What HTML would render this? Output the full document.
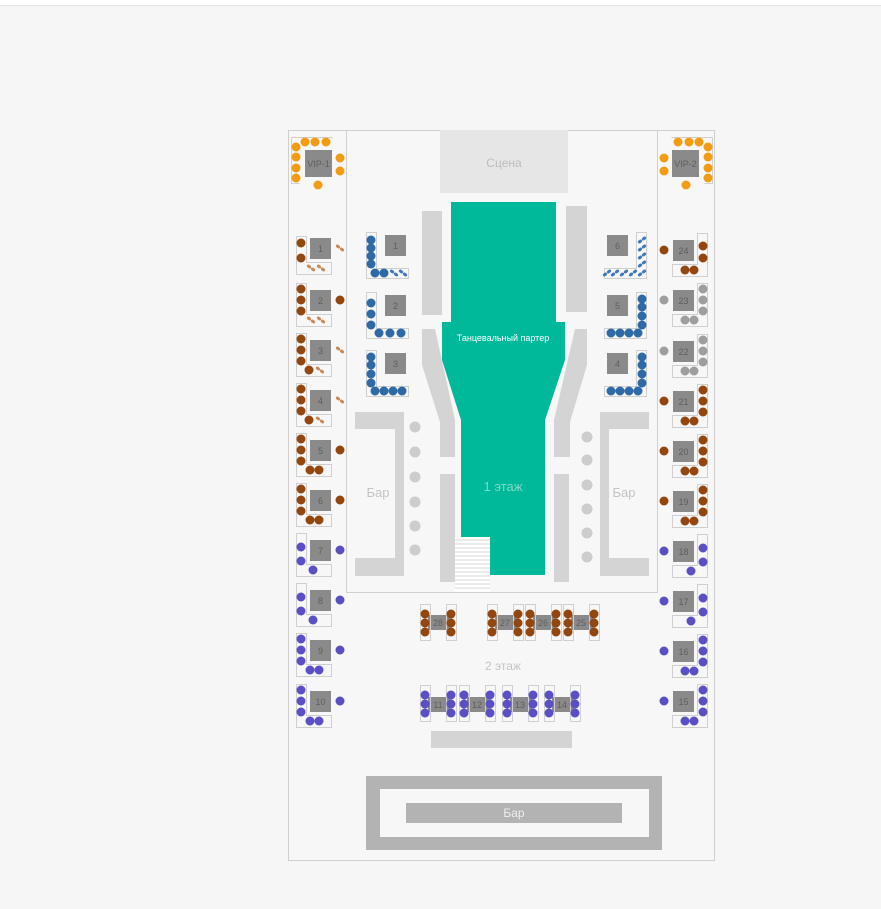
<!DOCTYPE html>
<html><head><meta charset="utf-8"><style>
html,body{margin:0;padding:0;background:#f6f6f6;}
svg{display:block;}
text{font-family:"Liberation Sans",sans-serif;}
</style></head><body>
<svg width="881" height="909" viewBox="0 0 881 909" xmlns="http://www.w3.org/2000/svg">
<rect x="0" y="0" width="881" height="909" fill="#f6f6f6"/>
<rect x="0" y="0" width="881" height="5" fill="#fff"/>
<rect x="0" y="5" width="881" height="1" fill="#e2e2e2"/>
<defs>
<g id="sb"><ellipse cx="-2" cy="-1.5" rx="2.3" ry="1.6" fill="#c98a57" transform="rotate(35 -2 -1.5)"/><ellipse cx="2" cy="1.5" rx="2.3" ry="1.6" fill="#c98a57" transform="rotate(35 2 1.5)"/></g>
<g id="sbl"><ellipse cx="-2" cy="-1.5" rx="2.3" ry="1.6" fill="#3f7ab8" transform="rotate(35 -2 -1.5)"/><ellipse cx="2" cy="1.5" rx="2.3" ry="1.6" fill="#3f7ab8" transform="rotate(35 2 1.5)"/></g>
</defs>

<rect x="288.5" y="130.5" width="426" height="730" fill="#f7f7f7" stroke="#cfcfcf"/>
<path d="M346.5 130.5 V592.5 H657.5 V130.5" fill="none" stroke="#cfcfcf"/>

<rect x="440" y="130" width="128" height="63" fill="#e6e6e6"/>
<text x="504" y="167" font-size="12" fill="#bdbdbd" text-anchor="middle">Сцена</text>

<polygon points="451,202 556,202 556,322 565,322 565,360 545,420 545,575 461,575 461,420 442,360 442,322 451,322" fill="#00b89a"/>
<text x="503" y="341" font-size="9" fill="#fff" text-anchor="middle">Танцевальный партер</text>
<text x="503" y="491" font-size="13" fill="#7fd9c8" text-anchor="middle">1 этаж</text>
<rect x="455" y="537" width="35" height="55" fill="#fff"/>
<g stroke="#d6d6d6" stroke-width="1">
<line x1="455" y1="540" x2="490" y2="540"/><line x1="455" y1="544" x2="490" y2="544"/><line x1="455" y1="548" x2="490" y2="548"/><line x1="455" y1="552" x2="490" y2="552"/><line x1="455" y1="556" x2="490" y2="556"/><line x1="455" y1="560" x2="490" y2="560"/><line x1="455" y1="564" x2="490" y2="564"/><line x1="455" y1="568" x2="490" y2="568"/><line x1="455" y1="572" x2="490" y2="572"/><line x1="455" y1="576" x2="490" y2="576"/><line x1="455" y1="580" x2="490" y2="580"/><line x1="455" y1="584" x2="490" y2="584"/><line x1="455" y1="588" x2="490" y2="588"/>
</g>

<g fill="#d4d4d4">
<rect x="422" y="211" width="20" height="104"/>
<rect x="566" y="206" width="21" height="106"/>
<polygon points="422,329 435,329 455,420 455,457 440,457 440,422 422,365"/>
<polygon points="575,329 587,329 587,365 570,422 570,457 554,457 554,420"/>
<rect x="440" y="474" width="15" height="108"/>
<rect x="554" y="474" width="15" height="108"/>
<path d="M355 412 H404 V576 H355 V558 H395 V429 H355 Z"/>
<path d="M649 412 H600 V576 H649 V558 H609 V429 H649 Z"/>
</g>
<text x="378" y="497" font-size="13" fill="#c4c4c4" text-anchor="middle">Бар</text>
<text x="624" y="497" font-size="13" fill="#c4c4c4" text-anchor="middle">Бар</text>
<g fill="#cdcdcd">
<circle cx="415" cy="427" r="5.5"/><circle cx="415" cy="452" r="5.5"/><circle cx="415" cy="477" r="5.5"/><circle cx="415" cy="502" r="5.5"/><circle cx="415" cy="526" r="5.5"/><circle cx="415" cy="550" r="5.5"/>
<circle cx="587" cy="437" r="5.5"/><circle cx="587" cy="460" r="5.5"/><circle cx="587" cy="485" r="5.5"/><circle cx="587" cy="509" r="5.5"/><circle cx="587" cy="533" r="5.5"/><circle cx="587" cy="557" r="5.5"/>
</g>

<g id="vip1">
<path d="M291.5 137.5 H332.5 M291.5 137.5 V183.5 H299.5" fill="none" stroke="#cfcfcf"/>
<rect x="305" y="150" width="27" height="27" fill="#8a8a8a"/>
<g fill="#f39c12">
<circle cx="305" cy="142" r="4.5"/><circle cx="315" cy="142" r="4.5"/><circle cx="326" cy="142" r="4.5"/>
<circle cx="296" cy="147" r="4.5"/><circle cx="296" cy="157" r="4.5"/><circle cx="296" cy="168" r="4.5"/><circle cx="296" cy="178" r="4.5"/>
<circle cx="340" cy="158" r="4.5"/><circle cx="340" cy="171" r="4.5"/><circle cx="318" cy="185" r="4.5"/>
</g></g>
<use href="#vip1" transform="translate(1004,0) scale(-1,1)"/>
<text x="318.5" y="167" font-size="9" fill="#5e5e5e" text-anchor="middle">VIP-1</text>
<text x="685.5" y="167" font-size="9" fill="#5e5e5e" text-anchor="middle">VIP-2</text>

<g id="lt1" transform="translate(0,248)"><path d="M296.5 -11.5 H306.5 V14.5 H331.5 V26.5 H296.5 Z" fill="none" stroke="#cfcfcf"/><rect x="310" y="-10" width="21" height="21" fill="#8a8a8a"/><g fill="#94460f"><circle cx="301" cy="-5" r="4.5"/><circle cx="301" cy="10" r="4.5"/></g><use href="#sb" x="311" y="20"/><use href="#sb" x="321" y="20"/><use href="#sb" x="340" y="0"/></g>
<g transform="translate(0,300)"><path d="M296.5 -16.5 H306.5 V14.5 H331.5 V26.5 H296.5 Z" fill="none" stroke="#cfcfcf"/><rect x="310" y="-10" width="21" height="21" fill="#8a8a8a"/><g fill="#94460f"><circle cx="301" cy="-11" r="4.5"/><circle cx="301" cy="0" r="4.5"/><circle cx="301" cy="11" r="4.5"/><circle cx="340" cy="0" r="4.5"/></g><use href="#sb" x="311" y="20"/><use href="#sb" x="321" y="20"/></g>
<g id="lt3" transform="translate(0,350)"><path d="M296.5 -16.5 H306.5 V14.5 H331.5 V26.5 H296.5 Z" fill="none" stroke="#cfcfcf"/><rect x="310" y="-10" width="21" height="21" fill="#8a8a8a"/><g fill="#94460f"><circle cx="301" cy="-11" r="4.5"/><circle cx="301" cy="0" r="4.5"/><circle cx="301" cy="11" r="4.5"/><circle cx="309" cy="20" r="4.5"/></g><use href="#sb" x="320" y="20"/><use href="#sb" x="340" y="0"/></g>
<use href="#lt3" transform="translate(0,50)"/>
<g id="lt5" transform="translate(0,450)"><path d="M296.5 -16.5 H306.5 V14.5 H331.5 V26.5 H296.5 Z" fill="none" stroke="#cfcfcf"/><rect x="310" y="-10" width="21" height="21" fill="#8a8a8a"/><g fill="#94460f"><circle cx="301" cy="-11" r="4.5"/><circle cx="301" cy="0" r="4.5"/><circle cx="301" cy="11" r="4.5"/><circle cx="310" cy="20" r="4.5"/><circle cx="319" cy="20" r="4.5"/><circle cx="340" cy="0" r="4.5"/></g></g>
<use href="#lt5" transform="translate(0,50)"/>
<g id="lt7" transform="translate(0,550)"><path d="M296.5 -16.5 H306.5 V14.5 H331.5 V26.5 H296.5 Z" fill="none" stroke="#cfcfcf"/><rect x="310" y="-10" width="21" height="21" fill="#8a8a8a"/><g fill="#5a4fc4"><circle cx="301" cy="-3" r="4.5"/><circle cx="301" cy="11" r="4.5"/><circle cx="313" cy="20" r="4.5"/><circle cx="340" cy="0" r="4.5"/></g></g>
<use href="#lt7" transform="translate(0,50)"/>
<g id="lt9" transform="translate(0,650)"><path d="M296.5 -16.5 H306.5 V14.5 H331.5 V26.5 H296.5 Z" fill="none" stroke="#cfcfcf"/><rect x="310" y="-10" width="21" height="21" fill="#8a8a8a"/><g fill="#5a4fc4"><circle cx="301" cy="-11" r="4.5"/><circle cx="301" cy="0" r="4.5"/><circle cx="301" cy="11" r="4.5"/><circle cx="310" cy="20" r="4.5"/><circle cx="319" cy="20" r="4.5"/><circle cx="340" cy="0" r="4.5"/></g></g>
<use href="#lt9" transform="translate(0,51)"/>

<g transform="translate(1004,250) scale(-1,1)"><path d="M296.5 -16.5 H306.5 V14.5 H331.5 V26.5 H296.5 Z" fill="none" stroke="#cfcfcf"/><rect x="310" y="-10" width="21" height="21" fill="#8a8a8a"/><g fill="#94460f"><circle cx="301" cy="-4" r="4.5"/><circle cx="301" cy="8" r="4.5"/><circle cx="310" cy="20" r="4.5"/><circle cx="319" cy="20" r="4.5"/><circle cx="340" cy="0" r="4.5"/></g></g>
<g id="rt23" transform="translate(1004,300) scale(-1,1)"><path d="M296.5 -16.5 H306.5 V14.5 H331.5 V26.5 H296.5 Z" fill="none" stroke="#cfcfcf"/><rect x="310" y="-10" width="21" height="21" fill="#8a8a8a"/><g fill="#9e9e9e"><circle cx="301" cy="-11" r="4.5"/><circle cx="301" cy="0" r="4.5"/><circle cx="301" cy="11" r="4.5"/><circle cx="310" cy="20" r="4.5"/><circle cx="319" cy="20" r="4.5"/><circle cx="340" cy="0" r="4.5"/></g></g>
<use href="#rt23" transform="translate(0,51)"/>
<g id="rt21" transform="translate(1004,401) scale(-1,1)"><path d="M296.5 -16.5 H306.5 V14.5 H331.5 V26.5 H296.5 Z" fill="none" stroke="#cfcfcf"/><rect x="310" y="-10" width="21" height="21" fill="#8a8a8a"/><g fill="#94460f"><circle cx="301" cy="-11" r="4.5"/><circle cx="301" cy="0" r="4.5"/><circle cx="301" cy="11" r="4.5"/><circle cx="310" cy="20" r="4.5"/><circle cx="319" cy="20" r="4.5"/><circle cx="340" cy="0" r="4.5"/></g></g>
<use href="#rt21" transform="translate(0,50)"/>
<use href="#rt21" transform="translate(0,100)"/>
<g transform="translate(1004,0) scale(-1,1)">
<use href="#lt7" transform="translate(0,1)"/>
<use href="#lt7" transform="translate(0,51)"/>
<use href="#lt9" transform="translate(0,1)"/>
<use href="#lt9" transform="translate(0,51)"/>
</g>

<g font-size="9" fill="#5e5e5e" text-anchor="middle">
<text x="320.5" y="252">1</text><text x="320.5" y="304">2</text><text x="320.5" y="354">3</text><text x="320.5" y="404">4</text><text x="320.5" y="454">5</text><text x="320.5" y="504">6</text><text x="320.5" y="554">7</text><text x="320.5" y="604">8</text><text x="320.5" y="654">9</text><text x="320.5" y="705">10</text>
<text x="683.5" y="254">24</text><text x="683.5" y="304">23</text><text x="683.5" y="355">22</text><text x="683.5" y="405">21</text><text x="683.5" y="455">20</text><text x="683.5" y="505">19</text><text x="683.5" y="555">18</text><text x="683.5" y="605">17</text><text x="683.5" y="655">16</text><text x="683.5" y="705">15</text>
</g>

<g transform="translate(0,235)"><path d="M366.5 -2.5 H376.5 V33.5 H408.5 V43.5 H366.5 Z" fill="none" stroke="#cfcfcf"/><rect x="385" y="0" width="21" height="21" fill="#8a8a8a"/><g fill="#2e6aa6"><circle cx="371" cy="5" r="4.5"/><circle cx="371" cy="13" r="4.5"/><circle cx="371" cy="21" r="4.5"/><circle cx="371" cy="29" r="4.5"/><circle cx="375" cy="38" r="4.5"/><circle cx="384" cy="38" r="4.5"/></g><use href="#sbl" x="394" y="38"/><use href="#sbl" x="403" y="38"/></g>
<g transform="translate(0,295)"><path d="M366.5 -2.5 H376.5 V33.5 H408.5 V43.5 H366.5 Z" fill="none" stroke="#cfcfcf"/><rect x="385" y="0" width="21" height="21" fill="#8a8a8a"/><g fill="#2e6aa6"><circle cx="371" cy="8" r="4.5"/><circle cx="371" cy="19" r="4.5"/><circle cx="371" cy="30" r="4.5"/><circle cx="379" cy="38" r="4.5"/><circle cx="390" cy="38" r="4.5"/><circle cx="401" cy="38" r="4.5"/></g></g>
<g id="it3" transform="translate(0,353)"><path d="M366.5 -2.5 H376.5 V33.5 H408.5 V43.5 H366.5 Z" fill="none" stroke="#cfcfcf"/><rect x="385" y="0" width="21" height="21" fill="#8a8a8a"/><g fill="#2e6aa6"><circle cx="371" cy="4" r="4.5"/><circle cx="371" cy="12" r="4.5"/><circle cx="371" cy="21" r="4.5"/><circle cx="371" cy="30" r="4.5"/><circle cx="375" cy="38" r="4.5"/><circle cx="384" cy="38" r="4.5"/><circle cx="393" cy="38" r="4.5"/><circle cx="402" cy="38" r="4.5"/></g></g>
<g transform="translate(1013,0) scale(-1,1)">
<use href="#it3" transform="translate(0,-58)"/>
<use href="#it3" transform="translate(0,0)"/>
<g transform="translate(0,235)"><path d="M366.5 -2.5 H376.5 V33.5 H408.5 V43.5 H366.5 Z" fill="none" stroke="#cfcfcf"/><rect x="385" y="0" width="21" height="21" fill="#8a8a8a"/><use href="#sbl" x="371" y="5"/><use href="#sbl" x="371" y="13"/><use href="#sbl" x="371" y="21"/><use href="#sbl" x="371" y="29"/><use href="#sbl" x="371" y="38"/><use href="#sbl" x="380" y="38"/><use href="#sbl" x="389" y="38"/><use href="#sbl" x="398" y="38"/><use href="#sbl" x="406" y="38"/></g>
</g>
<g font-size="9" fill="#5e5e5e" text-anchor="middle">
<text x="395.5" y="249">1</text><text x="395.5" y="309">2</text><text x="395.5" y="367">3</text>
<text x="617.5" y="249">6</text><text x="617.5" y="309">5</text><text x="617.5" y="367">4</text>
</g>

<defs>
<g id="st"><rect x="-4.5" y="-18.5" width="10" height="36" fill="none" stroke="#cfcfcf"/><circle cx="0" cy="-9" r="4.5"/><circle cx="0" cy="0" r="4.5"/><circle cx="0" cy="9" r="4.5"/></g>
</defs>
<g fill="#8a8a8a">
<rect x="428" y="615" width="22" height="15"/><rect x="495" y="615" width="22" height="15"/><rect x="533" y="615" width="22" height="15"/><rect x="571" y="615" width="22" height="15"/>
<rect x="428" y="697" width="22" height="15"/><rect x="467" y="697" width="22" height="15"/><rect x="510" y="697" width="22" height="15"/><rect x="552" y="697" width="22" height="15"/>
</g>
<g fill="#94460f" transform="translate(0,623)">
<use href="#st" x="425"/><use href="#st" x="451"/><use href="#st" x="492"/><use href="#st" x="518"/><use href="#st" x="530"/><use href="#st" x="556"/><use href="#st" x="568"/><use href="#st" x="594"/>
</g>
<g fill="#5a4fc4" transform="translate(0,704)">
<use href="#st" x="425"/><use href="#st" x="451"/><use href="#st" x="464"/><use href="#st" x="490"/><use href="#st" x="507"/><use href="#st" x="533"/><use href="#st" x="549"/><use href="#st" x="575"/>
</g>
<g font-size="9" fill="#5e5e5e" text-anchor="middle">
<text x="438" y="626">28</text><text x="505" y="626">27</text><text x="543" y="626">26</text><text x="581" y="626">25</text>
<text x="438" y="708">11</text><text x="477" y="708">12</text><text x="520" y="708">13</text><text x="562" y="708">14</text>
</g>
<text x="503" y="670" font-size="12" fill="#c4c4c4" text-anchor="middle">2 этаж</text>

<rect x="431" y="731" width="141" height="17" fill="#d4d4d4"/>

<path d="M366 776 H662 V850 H366 Z M380 789 V837 H649 V789 Z" fill="#b3b3b3" fill-rule="evenodd"/>
<rect x="406" y="803" width="216" height="20" fill="#b3b3b3"/>
<text x="514" y="817" font-size="12" fill="#eeeeee" text-anchor="middle">Бар</text>
</svg>
</body></html>
